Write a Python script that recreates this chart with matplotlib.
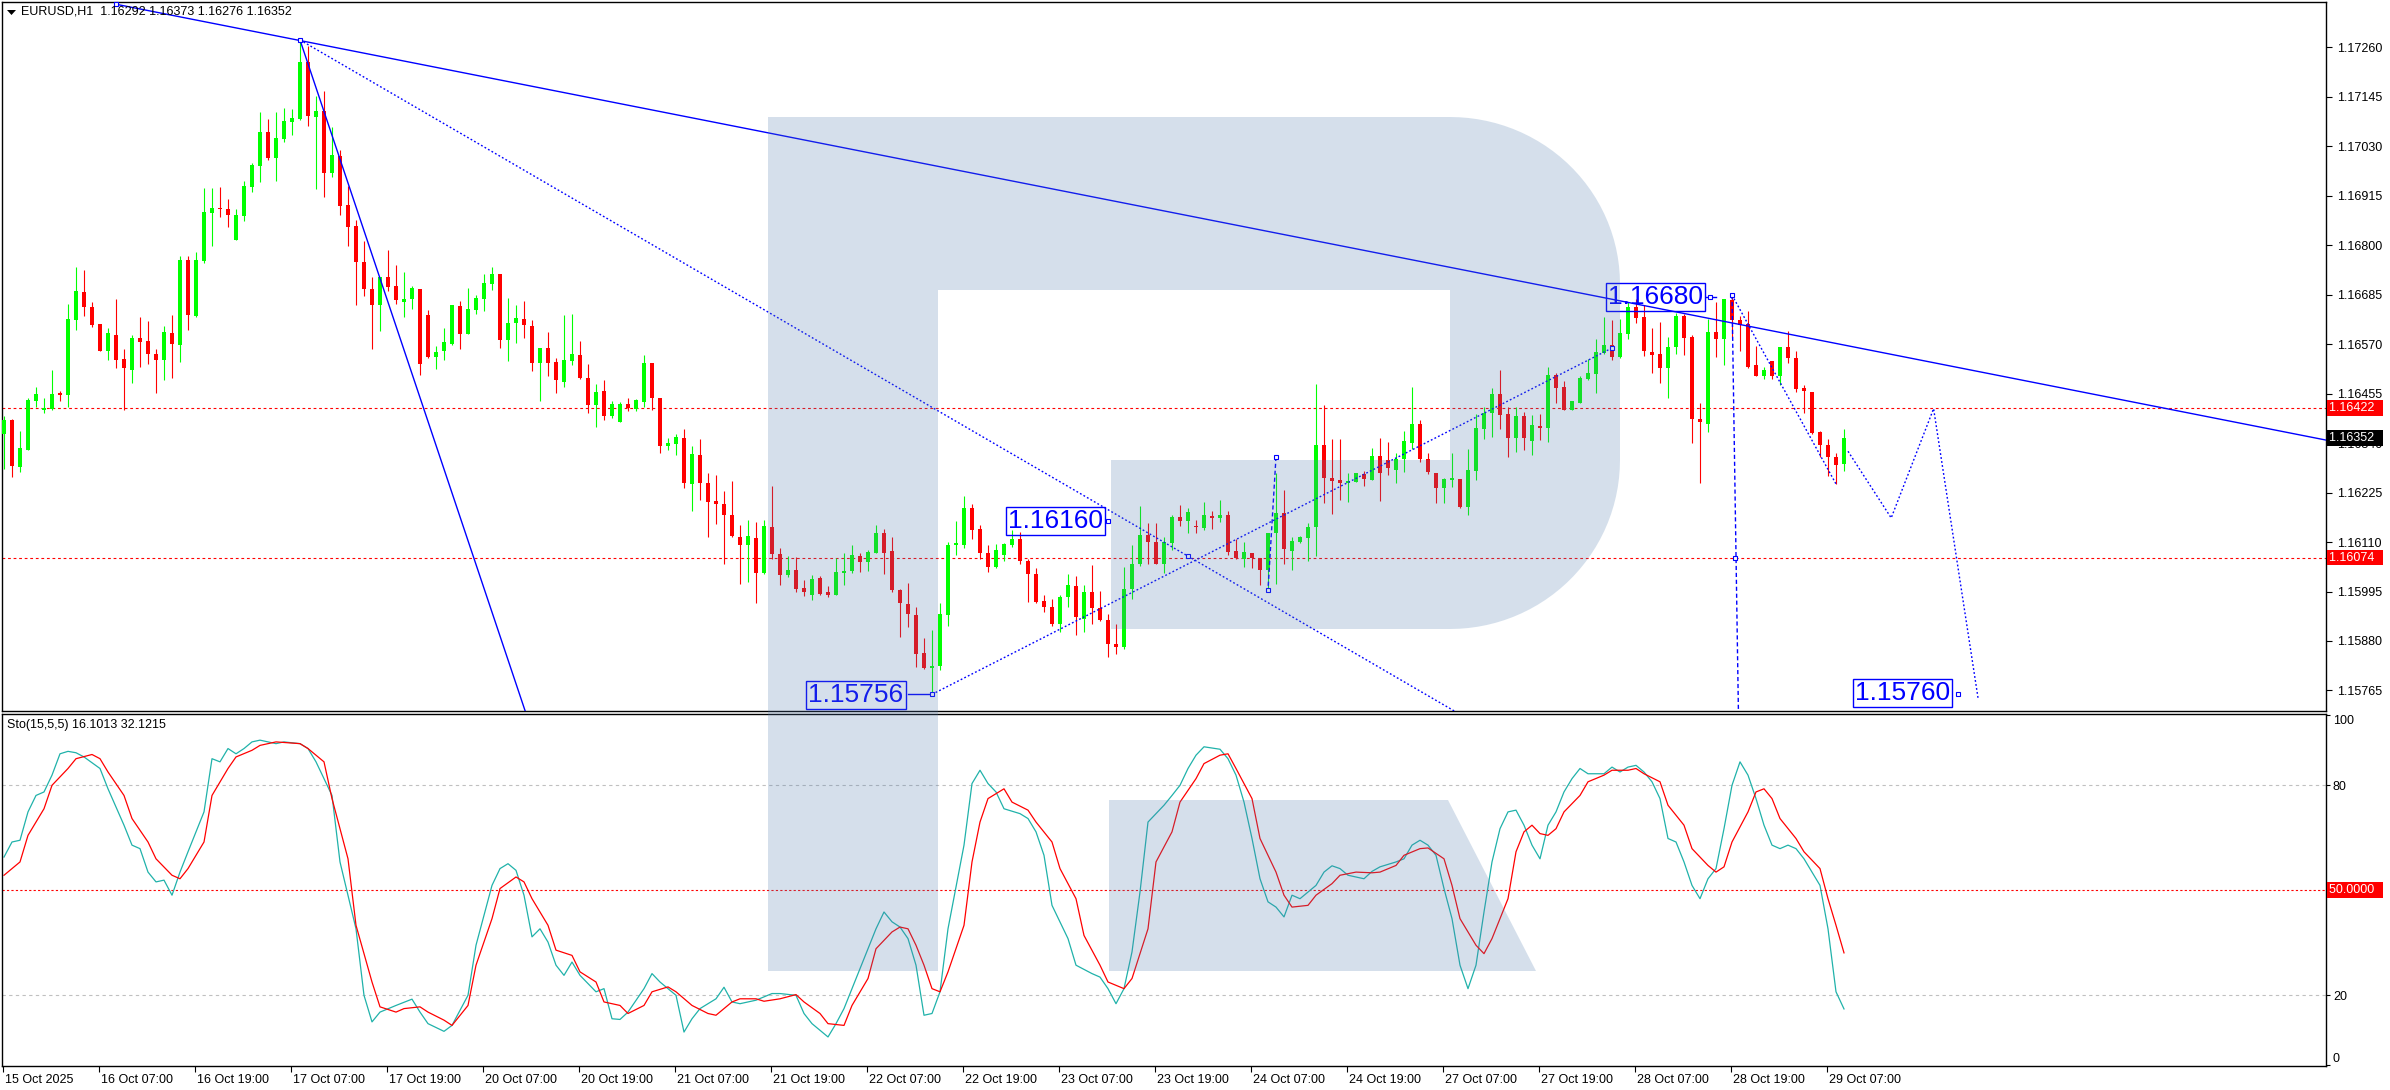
import numpy as np
import matplotlib.pyplot as plt
from matplotlib.patches import Polygon
import matplotlib.transforms as mtransforms

plt.rcParams['font.family'] = ['Liberation Sans', 'DejaVu Sans']

W, H = 2390, 1090

# ---- data (EURUSD H1, 15 Oct 19:00 .. 29 Oct 09:00) ----
opens = [
    1.16362, 1.16393, 1.16285, 1.16324, 1.16437, 1.16418, 1.16419, 1.16456, 1.16451, 1.16625,
    1.16692, 1.16656, 1.16616, 1.16553, 1.16592, 1.16535, 1.16511, 1.16584, 1.16577, 1.16547,
    1.16534, 1.16597, 1.16568, 1.16766, 1.16635, 1.16763, 1.16875, 1.16887, 1.16885, 1.16811,
    1.16868, 1.16935, 1.16985, 1.17062, 1.17003, 1.17047, 1.17087, 1.17093, 1.17226, 1.17099,
    1.17113, 1.16968, 1.17008, 1.16894, 1.16844, 1.16760, 1.16699, 1.16661, 1.16727, 1.16705,
    1.16669, 1.16674, 1.16698, 1.16638, 1.16539, 1.16553, 1.16571, 1.16658, 1.16594, 1.16650,
    1.16676, 1.16709, 1.16732, 1.16579, 1.16618, 1.16629, 1.16612, 1.16527, 1.16561, 1.16528,
    1.16483, 1.16530, 1.16545, 1.16491, 1.16429, 1.16461, 1.16404, 1.16389, 1.16430, 1.16420,
    1.16435, 1.16526, 1.16445, 1.16334, 1.16338, 1.16352, 1.16246, 1.16312, 1.16247, 1.16205,
    1.16198, 1.16173, 1.16122, 1.16102, 1.16120, 1.16037, 1.16145, 1.16083, 1.16033, 1.16045,
    1.16003, 1.15987, 1.16026, 1.15994, 1.15987, 1.16038, 1.16042, 1.16078, 1.16063, 1.16084,
    1.16130, 1.16089, 1.15999, 1.15967, 1.15940, 1.15853, 1.15817, 1.15822, 1.15940, 1.16104,
    1.16103, 1.16188, 1.16140, 1.16084, 1.16051, 1.16081, 1.16104, 1.16116, 1.16065, 1.16035,
    1.15973, 1.15959, 1.15920, 1.15982, 1.16007, 1.15932, 1.15994, 1.15956, 1.15929, 1.15874,
    1.15867, 1.16001, 1.16059, 1.16127, 1.16110, 1.16060, 1.16108, 1.16168, 1.16158, 1.16147,
    1.16142, 1.16171, 1.16165, 1.16172, 1.16089, 1.16071, 1.16084, 1.16074, 1.16045, 1.16130,
    1.16178, 1.16089, 1.16109, 1.16120, 1.16145, 1.16335, 1.16260, 1.16254, 1.16247, 1.16249,
    1.16268, 1.16254, 1.16309, 1.16300, 1.16278, 1.16303, 1.16341, 1.16384, 1.16302, 1.16270,
    1.16236, 1.16255, 1.16257, 1.16191, 1.16275, 1.16372, 1.16410, 1.16454, 1.16408, 1.16351,
    1.16403, 1.16344, 1.16379, 1.16374, 1.16498, 1.16470, 1.16417, 1.16433, 1.16489, 1.16501,
    1.16549, 1.16569, 1.16539, 1.16593, 1.16656, 1.16632, 1.16551, 1.16547, 1.16515, 1.16563,
    1.16636, 1.16587, 1.16397, 1.16385, 1.16598, 1.16582, 1.16673, 1.16625, 1.16617, 1.16521,
    1.16497, 1.16531, 1.16497, 1.16563, 1.16538, 1.16469, 1.16459, 1.16365, 1.16335, 1.16308,
    1.16292]
highs = [
    1.16403, 1.16396, 1.16367, 1.16444, 1.16470, 1.16444, 1.16509, 1.16461, 1.16663, 1.16750,
    1.16742, 1.16668, 1.16616, 1.16607, 1.16675, 1.16558, 1.16591, 1.16632, 1.16623, 1.16558,
    1.16612, 1.16638, 1.16775, 1.16776, 1.16785, 1.16932, 1.16932, 1.16936, 1.16907, 1.16883,
    1.16950, 1.16992, 1.17109, 1.17093, 1.17109, 1.17118, 1.17117, 1.17277, 1.17262, 1.17146,
    1.17159, 1.17075, 1.17021, 1.16938, 1.16858, 1.16810, 1.16726, 1.16727, 1.16788, 1.16753,
    1.16737, 1.16706, 1.16698, 1.16649, 1.16565, 1.16607, 1.16660, 1.16671, 1.16700, 1.16684,
    1.16734, 1.16750, 1.16732, 1.16677, 1.16660, 1.16670, 1.16625, 1.16561, 1.16598, 1.16538,
    1.16638, 1.16640, 1.16578, 1.16523, 1.16477, 1.16487, 1.16438, 1.16435, 1.16445, 1.16443,
    1.16545, 1.16526, 1.16445, 1.16352, 1.16361, 1.16373, 1.16333, 1.16350, 1.16270, 1.16266,
    1.16229, 1.16251, 1.16149, 1.16161, 1.16157, 1.16161, 1.16241, 1.16095, 1.16077, 1.16075,
    1.16021, 1.16034, 1.16032, 1.16008, 1.16074, 1.16085, 1.16102, 1.16084, 1.16091, 1.16149,
    1.16141, 1.16121, 1.16001, 1.16015, 1.15960, 1.15887, 1.15906, 1.15969, 1.16110, 1.16160,
    1.16217, 1.16198, 1.16149, 1.16104, 1.16105, 1.16108, 1.16137, 1.16134, 1.16071, 1.16050,
    1.15987, 1.15977, 1.15987, 1.16035, 1.16031, 1.16009, 1.16057, 1.15996, 1.15943, 1.15920,
    1.16051, 1.16102, 1.16194, 1.16154, 1.16155, 1.16122, 1.16172, 1.16195, 1.16188, 1.16162,
    1.16204, 1.16181, 1.16208, 1.16182, 1.16116, 1.16109, 1.16084, 1.16074, 1.16132, 1.16270,
    1.16231, 1.16122, 1.16125, 1.16154, 1.16477, 1.16428, 1.16350, 1.16350, 1.16270, 1.16270,
    1.16275, 1.16328, 1.16352, 1.16343, 1.16318, 1.16367, 1.16471, 1.16393, 1.16316, 1.16270,
    1.16260, 1.16316, 1.16257, 1.16326, 1.16408, 1.16423, 1.16469, 1.16510, 1.16423, 1.16423,
    1.16413, 1.16406, 1.16408, 1.16516, 1.16502, 1.16485, 1.16438, 1.16497, 1.16536, 1.16582,
    1.16633, 1.16625, 1.16628, 1.16669, 1.16676, 1.16660, 1.16607, 1.16622, 1.16587, 1.16643,
    1.16641, 1.16592, 1.16433, 1.16628, 1.16668, 1.16676, 1.16684, 1.16635, 1.16647, 1.16566,
    1.16518, 1.16531, 1.16563, 1.16601, 1.16554, 1.16476, 1.16459, 1.16367, 1.16350, 1.16318,
    1.16373]
lows = [
    1.16280, 1.16262, 1.16272, 1.16323, 1.16423, 1.16411, 1.16417, 1.16438, 1.16423, 1.16604,
    1.16636, 1.16610, 1.16553, 1.16533, 1.16514, 1.16417, 1.16479, 1.16517, 1.16524, 1.16456,
    1.16486, 1.16492, 1.16529, 1.16604, 1.16633, 1.16758, 1.16798, 1.16866, 1.16843, 1.16811,
    1.16857, 1.16924, 1.16946, 1.16997, 1.16949, 1.17040, 1.17056, 1.17091, 1.17077, 1.16931,
    1.16912, 1.16958, 1.16869, 1.16797, 1.16661, 1.16683, 1.16559, 1.16600, 1.16693, 1.16663,
    1.16633, 1.16652, 1.16499, 1.16537, 1.16513, 1.16533, 1.16569, 1.16559, 1.16594, 1.16641,
    1.16648, 1.16695, 1.16561, 1.16530, 1.16573, 1.16585, 1.16508, 1.16437, 1.16497, 1.16457,
    1.16470, 1.16521, 1.16488, 1.16410, 1.16378, 1.16393, 1.16398, 1.16389, 1.16414, 1.16415,
    1.16425, 1.16416, 1.16318, 1.16323, 1.16313, 1.16236, 1.16181, 1.16208, 1.16121, 1.16153,
    1.16059, 1.16122, 1.16013, 1.16018, 1.15969, 1.16035, 1.16071, 1.16009, 1.16028, 1.15993,
    1.15984, 1.15976, 1.15986, 1.15983, 1.15986, 1.16009, 1.16039, 1.16040, 1.16042, 1.16084,
    1.16035, 1.15994, 1.15890, 1.15912, 1.15820, 1.15815, 1.15756, 1.15812, 1.15916, 1.16079,
    1.16095, 1.16118, 1.16070, 1.16040, 1.16049, 1.16066, 1.16099, 1.16058, 1.15970, 1.15968,
    1.15947, 1.15914, 1.15900, 1.15960, 1.15895, 1.15900, 1.15920, 1.15927, 1.15843, 1.15849,
    1.15861, 1.15977, 1.16054, 1.16058, 1.16058, 1.16037, 1.16091, 1.16147, 1.16132, 1.16132,
    1.16139, 1.16141, 1.16157, 1.16079, 1.16070, 1.16052, 1.16050, 1.16011, 1.15997, 1.16012,
    1.16059, 1.16045, 1.16108, 1.16065, 1.16078, 1.16200, 1.16176, 1.16208, 1.16203, 1.16249,
    1.16241, 1.16254, 1.16206, 1.16265, 1.16247, 1.16272, 1.16326, 1.16297, 1.16267, 1.16201,
    1.16201, 1.16239, 1.16190, 1.16173, 1.16255, 1.16349, 1.16355, 1.16372, 1.16308, 1.16319,
    1.16323, 1.16313, 1.16347, 1.16343, 1.16433, 1.16417, 1.16417, 1.16433, 1.16487, 1.16456,
    1.16546, 1.16533, 1.16538, 1.16583, 1.16620, 1.16543, 1.16502, 1.16479, 1.16444, 1.16546,
    1.16544, 1.16341, 1.16248, 1.16365, 1.16541, 1.16522, 1.16587, 1.16555, 1.16514, 1.16497,
    1.16490, 1.16490, 1.16476, 1.16526, 1.16458, 1.16409, 1.16360, 1.16308, 1.16263, 1.16244,
    1.16276]
closes = [
    1.16393, 1.16287, 1.16328, 1.16441, 1.16453, 1.16420, 1.16453, 1.16451, 1.16628, 1.16694,
    1.16657, 1.16614, 1.16555, 1.16595, 1.16532, 1.16514, 1.16584, 1.16576, 1.16548, 1.16534,
    1.16599, 1.16571, 1.16766, 1.16638, 1.16766, 1.16877, 1.16887, 1.16885, 1.16870, 1.16870,
    1.16938, 1.16986, 1.17062, 1.17003, 1.17049, 1.17088, 1.17096, 1.17226, 1.17101, 1.17111,
    1.16968, 1.17009, 1.16892, 1.16843, 1.16760, 1.16699, 1.16661, 1.16727, 1.16703, 1.16672,
    1.16675, 1.16701, 1.16524, 1.16539, 1.16552, 1.16575, 1.16660, 1.16594, 1.16651, 1.16677,
    1.16712, 1.16733, 1.16579, 1.16619, 1.16631, 1.16614, 1.16527, 1.16561, 1.16527, 1.16486,
    1.16533, 1.16547, 1.16492, 1.16429, 1.16459, 1.16402, 1.16430, 1.16430, 1.16421, 1.16439,
    1.16526, 1.16444, 1.16334, 1.16340, 1.16354, 1.16248, 1.16315, 1.16248, 1.16204, 1.16199,
    1.16174, 1.16123, 1.16103, 1.16123, 1.16037, 1.16147, 1.16083, 1.16034, 1.16045, 1.16000,
    1.15994, 1.16024, 1.15990, 1.15988, 1.16041, 1.16043, 1.16081, 1.16064, 1.16086, 1.16132,
    1.16085, 1.15999, 1.15969, 1.15942, 1.15850, 1.15817, 1.15823, 1.15943, 1.16104, 1.16108,
    1.16190, 1.16139, 1.16084, 1.16053, 1.16091, 1.16105, 1.16116, 1.16065, 1.16035, 1.15971,
    1.15960, 1.15919, 1.15982, 1.16010, 1.15935, 1.15994, 1.15956, 1.15929, 1.15873, 1.15866,
    1.16001, 1.16060, 1.16127, 1.16109, 1.16060, 1.16109, 1.16168, 1.16160, 1.16180, 1.16145,
    1.16172, 1.16165, 1.16172, 1.16086, 1.16074, 1.16086, 1.16072, 1.16045, 1.16132, 1.16178,
    1.16094, 1.16112, 1.16122, 1.16145, 1.16335, 1.16260, 1.16252, 1.16248, 1.16251, 1.16270,
    1.16257, 1.16310, 1.16270, 1.16281, 1.16304, 1.16344, 1.16384, 1.16304, 1.16272, 1.16236,
    1.16256, 1.16258, 1.16191, 1.16277, 1.16375, 1.16410, 1.16455, 1.16406, 1.16351, 1.16403,
    1.16351, 1.16382, 1.16374, 1.16498, 1.16469, 1.16417, 1.16438, 1.16491, 1.16503, 1.16551,
    1.16569, 1.16540, 1.16596, 1.16657, 1.16631, 1.16553, 1.16545, 1.16515, 1.16564, 1.16636,
    1.16585, 1.16396, 1.16390, 1.16599, 1.16581, 1.16675, 1.16625, 1.16614, 1.16516, 1.16497,
    1.16510, 1.16497, 1.16563, 1.16538, 1.16466, 1.16461, 1.16364, 1.16335, 1.16308, 1.16290,
    1.16352]

# stochastic (15,5,5): %K main line and %D signal line, read at bar positions
k_bars = [0, 1, 2, 3, 4, 5, 6, 7, 8, 9, 10, 12, 13, 15, 16, 17, 18, 19, 20, 21, 22, 23, 25, 26,
          27, 28, 29, 30, 31, 32, 34, 35, 37, 38, 39, 41, 42, 44, 45, 46, 47, 49, 51, 52, 53, 55,
          56, 58, 59, 61, 62, 63, 64, 65, 66, 67, 68, 69, 70, 71, 72, 74, 75, 76, 77, 78, 80, 81,
          82, 84, 85, 86, 87, 89, 90, 91, 92, 94, 96, 97, 99, 100, 101, 103, 104, 105, 107, 109,
          110, 111, 112, 113, 114, 115, 116, 117, 118, 120, 121, 122, 123, 124, 125, 127, 128,
          129, 130, 131, 133, 134, 136, 137, 138, 139, 140, 141, 142, 143, 145, 146, 147, 148,
          149, 150, 152, 153, 154, 155, 156, 157, 158, 159, 160, 161, 162, 164, 165, 166, 167,
          168, 170, 171, 172, 174, 175, 176, 177, 178, 179, 180, 181, 182, 183, 184, 185, 186,
          187, 188, 189, 190, 191, 192, 193, 194, 195, 196, 197, 198, 200, 201, 202, 203, 204,
          205, 206, 207, 208, 209, 210, 211, 212, 213, 214, 215, 216, 217, 218, 219, 220, 221,
          222, 223, 224, 225, 227, 228, 229, 230]
k_vals = [59.5, 63.8, 64.3, 72.4, 77.1, 78.1, 82.9, 89.0, 89.7, 89.3, 88.1, 84.8, 79.0, 68.6, 62.9,
          61.9, 55.2, 52.4, 52.9, 48.6, 55.2, 61.0, 72.4, 87.6, 86.7, 90.5, 89.0, 90.5, 92.4, 92.9,
          91.9, 92.4, 91.9, 90.5, 86.7, 77.1, 58.1, 39.0, 20.0, 12.4, 15.2, 17.1, 18.9, 15.2, 11.9,
          9.7, 11.4, 20.0, 34.3, 51.4, 56.2, 57.6, 55.7, 48.6, 36.7, 39.0, 35.2, 28.6, 25.7, 29.5,
          25.7, 21.0, 21.9, 13.3, 13.1, 15.2, 21.9, 26.2, 23.8, 20.0, 9.5, 13.3, 16.2, 19.0, 22.3,
          18.1, 17.6, 18.6, 20.5, 20.5, 20.0, 14.8, 11.9, 8.1, 11.9, 16.2, 27.6, 39.0, 43.8, 41.0,
          39.5, 36.2, 28.6, 14.3, 14.8, 21.0, 39.0, 62.9, 80.5, 84.3, 80.5, 78.1, 73.3, 71.9, 70.5,
          66.7, 60.0, 45.7, 36.2, 28.6, 26.2, 25.2, 21.9, 17.6, 21.9, 32.4, 49.5, 69.5, 74.3, 77.1,
          80.0, 84.8, 88.6, 91.0, 90.3, 87.6, 82.9, 75.2, 64.8, 53.3, 46.7, 45.2, 42.4, 48.6, 47.6,
          51.4, 55.2, 57.0, 56.2, 54.3, 53.3, 55.4, 56.7, 58.1, 59.0, 62.9, 64.3, 62.9, 60.0, 50.5,
          41.9, 28.6, 21.9, 28.6, 43.8, 58.1, 67.6, 72.4, 72.9, 68.6, 62.9, 59.0, 68.6, 72.4, 78.1,
          81.9, 84.8, 83.3, 83.3, 85.2, 83.8, 85.2, 85.7, 83.8, 81.0, 76.2, 64.8, 63.8, 58.1, 51.4,
          47.6, 53.3, 56.2, 67.6, 80.0, 86.7, 82.9, 76.2, 68.6, 62.9, 61.9, 62.9, 61.9, 59.0, 51.4,
          39.0, 21.0, 16.1013]
d_bars = [0, 2, 3, 5, 6, 8, 9, 11, 12, 13, 15, 16, 18, 19, 21, 22, 23, 25, 26, 28, 29, 31, 32, 34,
          37, 38, 40, 41, 43, 44, 46, 47, 49, 50, 52, 53, 55, 56, 58, 59, 61, 62, 64, 65, 66, 68,
          69, 71, 72, 74, 75, 77, 78, 80, 81, 83, 84, 86, 88, 89, 91, 92, 94, 95, 97, 99, 100, 102,
          103, 105, 106, 108, 109, 111, 112, 113, 114, 115, 116, 117, 118, 120, 121, 122, 123,
          125, 126, 128, 129, 131, 132, 134, 135, 137, 138, 140, 141, 143, 144, 146, 147, 149,
          150, 152, 153, 154, 156, 157, 159, 160, 161, 163, 164, 166, 167, 169, 171, 172, 174,
          175, 177, 178, 180, 181, 182, 184, 185, 186, 188, 189, 190, 191, 192, 193, 194, 195,
          197, 198, 200, 201, 203, 204, 205, 207, 208, 210, 211, 213, 214, 215, 216, 218, 219,
          220, 221, 222, 224, 225, 227, 228, 229, 230]
d_vals = [54.3, 58.1, 65.7, 73.3, 80.0, 84.8, 87.6, 88.8, 87.6, 83.8, 77.1, 70.5, 63.8, 59.0, 54.3,
          53.3, 56.2, 63.8, 77.1, 84.8, 88.1, 90.0, 91.4, 92.4, 91.9, 90.5, 86.7, 76.2, 59.0, 40.0,
          23.8, 16.7, 15.2, 16.2, 16.7, 15.2, 12.9, 11.4, 17.1, 28.6, 41.9, 50.5, 53.8, 52.4, 47.6,
          40.0, 32.9, 31.4, 26.7, 23.8, 18.1, 17.1, 14.8, 17.1, 21.0, 22.4, 21.0, 17.1, 14.8, 14.3,
          18.1, 19.0, 19.0, 18.3, 19.0, 20.2, 18.1, 14.8, 11.9, 11.4, 17.1, 24.8, 33.3, 38.1, 39.5,
          39.0, 34.3, 28.6, 21.9, 21.0, 26.7, 40.0, 58.1, 69.5, 76.2, 79.0, 75.2, 72.9, 69.5, 63.8,
          56.2, 47.6, 37.1, 28.6, 23.8, 21.9, 24.8, 39.0, 58.1, 66.7, 75.2, 81.9, 86.2, 88.6, 89.0,
          84.8, 76.2, 64.8, 55.2, 48.6, 45.2, 45.7, 48.6, 51.9, 54.3, 55.2, 55.0, 55.2, 57.1, 60.0,
          61.9, 62.1, 59.0, 51.4, 41.9, 34.3, 31.9, 36.2, 47.6, 61.0, 66.7, 68.6, 66.2, 65.7, 67.6,
          72.4, 77.1, 81.0, 82.9, 84.3, 84.3, 84.8, 83.3, 81.0, 74.3, 68.6, 61.9, 57.1, 55.2, 56.7,
          63.8, 72.4, 78.1, 79.0, 76.2, 70.5, 64.8, 61.0, 56.2, 47.6, 40.0, 32.1215]

time_labels = ["15 Oct 2025", "16 Oct 07:00", "16 Oct 19:00", "17 Oct 07:00", "17 Oct 19:00",
               "20 Oct 07:00", "20 Oct 19:00", "21 Oct 07:00", "21 Oct 19:00", "22 Oct 07:00",
               "22 Oct 19:00", "23 Oct 07:00", "23 Oct 19:00", "24 Oct 07:00", "24 Oct 19:00",
               "27 Oct 07:00", "27 Oct 19:00", "28 Oct 07:00", "28 Oct 19:00", "29 Oct 07:00"]
label_bars = [-0.1, 11.9, 23.9, 35.9, 47.9, 59.9, 71.9, 83.9, 95.9, 107.9, 119.9, 131.9, 143.9,
              155.9, 167.9, 179.9, 191.9, 203.9, 215.9, 227.9]

price_ticks = [1.15765, 1.15880, 1.15995, 1.16110, 1.16225, 1.16340, 1.16455, 1.16570,
               1.16685, 1.16800, 1.16915, 1.17030, 1.17145, 1.17260]
level_lines = [1.16422, 1.16074]
last_price = 1.16352

# analyst drawings (bar, price)
trend_top = ([14, 290.25], [1.17360, 1.16347])
steep_down = ([37, 66], [1.17277, 1.15670])
fan_dotted = ([37, 184], [1.17277, 1.15688])
rise_dotted = ([116, 201], [1.15756, 1.16561])
old_dash = ([159, 158], [1.16308, 1.15999])
drop_dash = ([216, 216.8], [1.16684, 1.15719])
slide_dotted = ([216, 229], [1.16684, 1.16245])
forecast = ([230.5, 235.9, 241.2, 246.75], [1.16321, 1.16166, 1.16420, 1.15748])
anchors = ([14, 37, 138, 116, 201, 159, 158, 148, 213.3, 216, 216.4, 244.3],
           [1.17360, 1.17277, 1.16159, 1.15756, 1.16561, 1.16308, 1.15999, 1.16077, 1.16680,
            1.16684, 1.16074, 1.15757])
tags = [("1.16160", 131.4, 1.16159), ("1.15756", 106.5, 1.15755),
        ("1.16680", 206.4, 1.16680), ("1.15760", 237.3, 1.15759)]


def fx(x):
    return x / W


def fy(y):
    return 1 - y / H


fig = plt.figure(figsize=(W / 100, H / 100), dpi=100)
ax = fig.add_axes([fx(2), fy(711), fx(2326) - fx(2), fy(2) - fy(711)])
ax2 = fig.add_axes([fx(2), fy(1066), fx(2326) - fx(2), fy(714) - fy(1066)])

blue = '#0000ff'
bull, bear = '#00ff00', '#ff0000'
dots = (0, (1.3, 1.6))

# ---- candles ----
o = np.array(opens); h = np.array(highs); l = np.array(lows); c = np.array(closes)
x = np.arange(len(c))
cols = np.where(c >= o, bull, bear)
ax.vlines(x, l, h, colors=cols, lw=0.8, zorder=3)
ax.bar(x, np.maximum(np.abs(c - o), 2.4e-5), bottom=np.minimum(o, c), width=0.62,
       color=cols, linewidth=0, zorder=3)

for lv in level_lines:
    ax.axhline(lv, color='red', lw=0.8, ls=(0, (2.5, 2.5)), zorder=2)

# ---- drawings ----
ax.plot(*trend_top, color=blue, lw=1.0, zorder=4)
ax.plot(*steep_down, color=blue, lw=1.0, zorder=4)
for seg in (fan_dotted, rise_dotted, slide_dotted, forecast):
    ax.plot(*seg, color=blue, lw=1.0, ls=dots, zorder=4)
for seg in (old_dash, drop_dash):
    ax.plot(*seg, color=blue, lw=1.0, ls=(0, (3, 2)), zorder=4)
ax.plot(*anchors, 's', ms=3.5, mfc='white', mec=blue, mew=0.8, zorder=5, clip_on=False)
ax.plot([113.0, 115.8], [1.15756, 1.15756], color=blue, lw=1.0, zorder=4)
ax.plot([137.8, 138], [1.16159, 1.16159], color=blue, lw=1.0, zorder=4)
ax.plot([212.8, 214.0], [1.16680, 1.16680], color=blue, lw=1.0, zorder=4)
for txt, bx, by in tags:
    ax.text(bx, by, txt, color=blue, fontsize=19, ha='center', va='center', zorder=6,
            bbox=dict(boxstyle='square,pad=0.08', fc='none', ec=blue, lw=1))

ax.set_xlim(-0.25, 290.25)
ax.set_ylim(1.157173, 1.173652)
ax.set_xticks([])
ax.yaxis.tick_right()
ax.set_yticks(price_ticks)
ax.set_yticklabels([f"{p:.5f}" for p in price_ticks])
ax.tick_params(axis='y', direction='out', length=4, width=0.8, labelsize=9, pad=4)

ytr = ax.get_yaxis_transform()
off = mtransforms.ScaledTranslation(0.03, 0, fig.dpi_scale_trans)
for lv, fc in [(level_lines[0], 'red'), (level_lines[1], 'red'), (last_price, 'black')]:
    ax.text(1.0, lv, f"{lv:.5f}  ", transform=ytr + off, color='white', fontsize=9,
            ha='left', va='center', zorder=7, clip_on=False,
            bbox=dict(boxstyle='square,pad=0.15', fc=fc, ec='none'))

# ---- stochastic ----
ax2.axhline(80, color='#c0c0c0', lw=0.8, ls=(0, (3, 3)))
ax2.axhline(20, color='#c0c0c0', lw=0.8, ls=(0, (3, 3)))
ax2.axhline(50, color='red', lw=0.8, ls=(0, (2, 2)))
ax2.plot(k_bars, k_vals, color='#20b2aa', lw=0.9)
ax2.plot(d_bars, d_vals, color='#ff0000', lw=0.9)
ax2.set_xlim(-0.25, 290.25)
ax2.set_ylim(-0.2, 100.37)
ax2.yaxis.tick_right()
ax2.set_yticks([0, 20, 80, 100])
ax2.set_yticklabels(['0', '20', '80', '100'])
ax2.tick_params(axis='y', direction='out', length=3, width=0.8, labelsize=9, pad=2)
for t in ax2.yaxis.get_major_ticks():
    if t.get_loc() == 100:
        t.label2.set_va('top')
    elif t.get_loc() == 0:
        t.label2.set_va('bottom')
ax2.text(1.0, 50, "50.0000  ", transform=ax2.get_yaxis_transform() + off, color='white',
         fontsize=9, ha='left', va='center', clip_on=False,
         bbox=dict(boxstyle='square,pad=0.15', fc='red', ec='none'))
ax2.set_xticks(label_bars)
ax2.set_xticklabels(time_labels, ha='left')
ax2.tick_params(axis='x', direction='out', length=4, width=0.8, labelsize=9, pad=2)
xoff = mtransforms.ScaledTranslation(0.02, 0, fig.dpi_scale_trans)
for lbl in ax2.get_xticklabels():
    lbl.set_transform(lbl.get_transform() + xoff)

for a in (ax, ax2):
    for s in a.spines.values():
        s.set_linewidth(1.0)
        s.set_color('black')

fig.text(fx(21), fy(12), "EURUSD,H1  1.16292 1.16373 1.16276 1.16352", fontsize=9,
         va='center', ha='left')
fig.text(fx(7), fy(725), "Sto(15,5,5) 16.1013 32.1215", fontsize=9, va='center', ha='left')
fig.add_artist(Polygon([(fx(7), fy(10)), (fx(16), fy(10)), (fx(11.5), fy(15))],
                       closed=True, transform=fig.transFigure, fc='black', ec='none'))

# ---- watermark logo, translucent on top ----
t1 = np.linspace(np.pi / 2, 0, 30)
t2 = np.linspace(0, -np.pi / 2, 30)
outline = [(768, 117), (1450, 117)]
outline += [(1450 + 170 * np.cos(t), 284 - 167 * np.sin(t)) for t in t1]
outline += [(1450 + 170 * np.cos(t), 460 - 169 * np.sin(t)) for t in t2]
outline += [(1111, 629), (1111, 460), (1450, 460), (1450, 290), (938, 290), (938, 971),
            (768, 971)]
leg = [(1109, 800), (1448, 800), (1536, 971), (1109, 971)]
for shape in (outline, leg):
    fig.add_artist(Polygon([(fx(px), fy(py)) for px, py in shape], closed=True,
                           transform=fig.transFigure, fc=(80 / 255, 125 / 255, 175 / 255),
                           alpha=0.24, ec='none', zorder=10))

fig.savefig('out.png', dpi=100)
